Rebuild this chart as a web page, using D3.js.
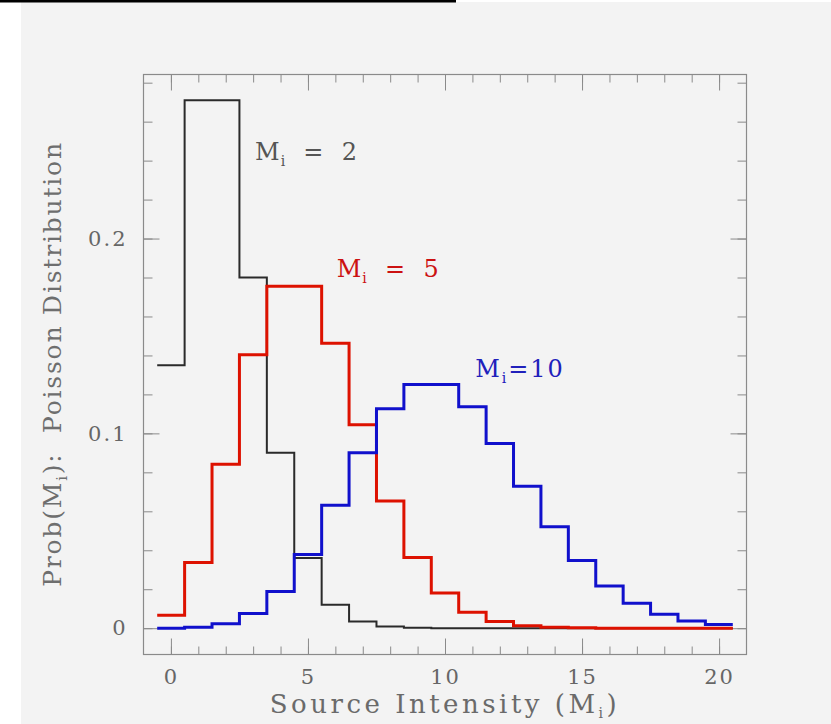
<!DOCTYPE html>
<html>
<head>
<meta charset="utf-8">
<script src="https://cdn.jsdelivr.net/npm/d3@7"></script>
<style>
  body { margin: 0; background: #fff; }
  svg { display: block; }
  .tick text { font-family: "DejaVu Serif", serif; fill: #666; }
</style>
</head>
<body>
<svg id="chart" width="831" height="724"></svg>
<script>
// bins k = 0..20
const counts = d3.range(0, 21)
const probM2 = [0.135, 0.271, 0.271, 0.180, 0.090, 0.036, 0.012, 0.0034, 0.0009, 0.0002,
                0, 0, 0, 0, 0, 0, 0, 0, 0, 0, 0]
const probM5 = [0.0067, 0.0337, 0.0842, 0.1404, 0.1755, 0.1755, 0.1462, 0.1044, 0.0653, 0.0363,
                0.0181, 0.0082, 0.0034, 0.0013, 0.0005, 0.0002, 0, 0, 0, 0, 0]
const probM10 = [0, 0.0005, 0.0023, 0.0076, 0.0189, 0.0378, 0.0631, 0.0901, 0.1126, 0.1251,
                 0.1251, 0.1137, 0.0948, 0.0729, 0.0521, 0.0347, 0.0217, 0.0128, 0.0071, 0.0037, 0.0019]
const seriesNames = ['2', '5', '10']
const xMajor = [0, 5, 10, 15, 20]
const xMinor = d3.range(0, 21)
const yMajor = [0, 0.1, 0.2]
const yMinor = d3.range(0, 0.29, 0.02)

const svg = d3.select('#chart')
const W = 831, H = 724

// page backdrop (scanned look)
svg.append('rect').attr('x', 21).attr('y', 2).attr('width', W - 21).attr('height', H - 2).attr('fill', '#f3f3f3')
svg.append('rect').attr('x', 0).attr('y', 0).attr('width', 456).attr('height', 2.5).attr('fill', '#000')

const pLeft = 143.5, pRight = 746.5, pTop = 74.5, pBottom = 654.5
const x = d3.scaleLinear().domain([-1, 21]).range([pLeft, pRight])
const y = d3.scaleLinear().domain([-0.0135, 0.2842]).range([pBottom, pTop])

const frameColor = '#8a8a8a'
function styleAxis(g) {
    g.select('.domain').remove()
    g.selectAll('.tick line').attr('stroke', frameColor).attr('stroke-width', 1)
}

// minor ticks, all four sides
svg.append('g').attr('transform', `translate(0,${pBottom})`)
    .call(d3.axisBottom(x).tickValues(xMinor).tickSize(-8).tickFormat(''))
    .call(styleAxis)
svg.append('g').attr('transform', `translate(0,${pTop})`)
    .call(d3.axisTop(x).tickValues(xMinor).tickSize(-8).tickFormat(''))
    .call(styleAxis)
svg.append('g').attr('transform', `translate(${pLeft},0)`)
    .call(d3.axisLeft(y).tickValues(yMinor).tickSize(-9).tickFormat(''))
    .call(styleAxis)
svg.append('g').attr('transform', `translate(${pRight},0)`)
    .call(d3.axisRight(y).tickValues(yMinor).tickSize(-9).tickFormat(''))
    .call(styleAxis)

// major ticks + labels
svg.append('g').attr('transform', `translate(0,${pBottom})`)
    .call(d3.axisBottom(x).tickValues(xMajor).tickSizeInner(-16).tickSizeOuter(0).tickPadding(15))
    .call(styleAxis)
    .selectAll('text').style('font-size', '21px').style('letter-spacing', '2px')
svg.append('g').attr('transform', `translate(0,${pTop})`)
    .call(d3.axisTop(x).tickValues(xMajor).tickSize(-16).tickFormat(''))
    .call(styleAxis)
svg.append('g').attr('transform', `translate(${pLeft},0)`)
    .call(d3.axisLeft(y).tickValues(yMajor).tickSizeInner(-16).tickSizeOuter(0).tickPadding(16)
        .tickFormat(d => d === 0 ? '0' : d3.format('.1f')(d)))
    .call(styleAxis)
    .selectAll('text').style('font-size', '21px').style('letter-spacing', '2px')
svg.append('g').attr('transform', `translate(${pRight},0)`)
    .call(d3.axisRight(y).tickValues(yMajor).tickSize(-16).tickFormat(''))
    .call(styleAxis)

svg.append('rect')
    .attr('x', pLeft).attr('y', pTop).attr('width', pRight - pLeft).attr('height', pBottom - pTop)
    .attr('fill', 'none').attr('stroke', frameColor).attr('stroke-width', 1.2)

// step histograms, bins span k-0.5 .. k+0.5
const step = d3.line()
    .x(d => x(d[0]))
    .y(d => y(d[1]))
    .curve(d3.curveStepAfter)
function stepPoints(vals) {
    const pts = counts.map((k, i) => [k - 0.5, vals[i]])
    pts.push([counts[counts.length - 1] + 0.5, vals[vals.length - 1]])
    return pts
}
const series = [
    {vals: probM2, color: '#2a2a2a', width: 2},
    {vals: probM5, color: '#dd1100', width: 3},
    {vals: probM10, color: '#1010cc', width: 3}
]
svg.append('g').selectAll('path')
    .data(series)
    .enter().append('path')
    .attr('d', d => step(stepPoints(d.vals)))
    .attr('fill', 'none')
    .attr('stroke', d => d.color)
    .attr('stroke-width', d => d.width)
    .attr('stroke-linejoin', 'miter')

// curve labels
const labels = [
    {name: seriesNames[0], eq: '  =  ', x: 3.07, y: 0.2405, color: '#555', ls: 1},
    {name: seriesNames[1], eq: '  =  ', x: 6.05, y: 0.1805, color: '#cc1111', ls: 1},
    {name: seriesNames[2], eq: '=', x: 11.1, y: 0.1290, color: '#2020bb', ls: 2}
]
labels.forEach(l => {
    const t = svg.append('text')
        .attr('x', x(l.x)).attr('y', y(l.y))
        .attr('fill', l.color)
        .style('font-family', '"DejaVu Serif", serif')
        .style('font-size', '24px')
        .style('letter-spacing', l.ls + 'px')
        .style('white-space', 'pre')
    t.append('tspan').text('M')
    t.append('tspan').attr('dy', 6).style('font-size', '14px').text('i')
    t.append('tspan').attr('dy', -6).text(l.eq + l.name)
})

// axis titles
const xt = svg.append('text')
    .attr('x', (pLeft + pRight) / 2).attr('y', 713)
    .attr('text-anchor', 'middle')
    .attr('fill', '#6a6a6a')
    .style('font-family', '"DejaVu Serif", serif')
    .style('font-size', '26px')
    .style('letter-spacing', '3.5px')
xt.append('tspan').text('Source Intensity (M')
xt.append('tspan').attr('dy', 5).style('font-size', '14px').text('i')
xt.append('tspan').attr('dy', -5).text(')')

const yt = svg.append('text')
    .attr('transform', 'translate(61,364) rotate(-90)')
    .attr('text-anchor', 'middle')
    .attr('fill', '#6e6e6e')
    .style('font-family', '"DejaVu Serif", serif')
    .style('font-size', '25px')
    .style('letter-spacing', '1.8px')
    .style('white-space', 'pre')
yt.append('tspan').text('Prob(M')
yt.append('tspan').attr('dy', 6).style('font-size', '15px').text('i')
yt.append('tspan').attr('dy', -6).text('):  Poisson Distribution')
</script>
</body>
</html>
